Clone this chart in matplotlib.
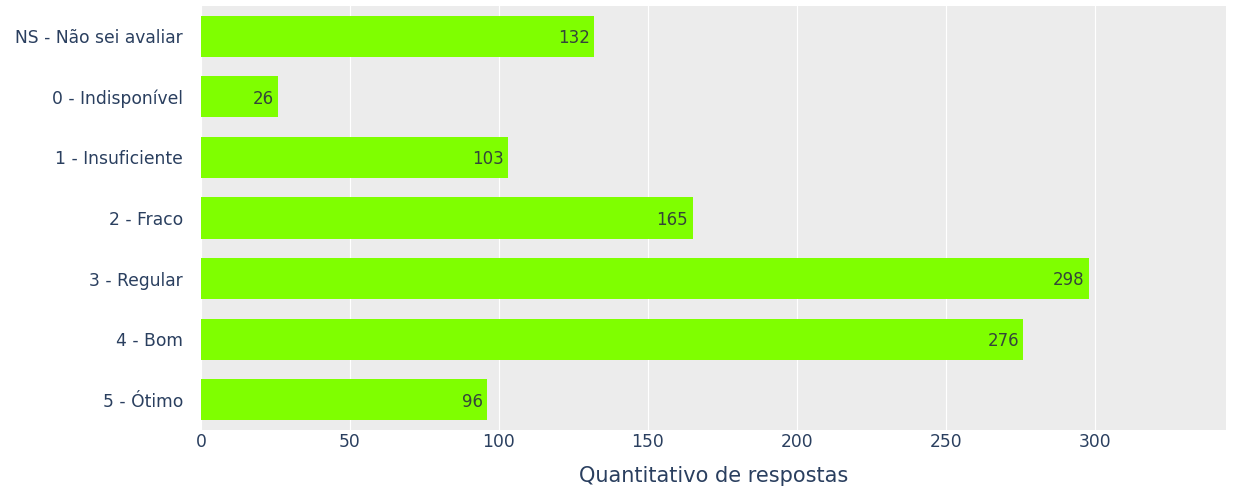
import numpy as np
import matplotlib
matplotlib.use("Agg")
import matplotlib.pyplot as plt

categorias = ["NS - Não sei avaliar", "0 - Indisponível", "1 - Insuficiente",
              "2 - Fraco", "3 - Regular", "4 - Bom", "5 - Ótimo"]
respostas = [132, 26, 103, 165, 298, 276, 96]
ticks_x = [0, 50, 100, 150, 200, 250, 300]

plt.rcParams['font.family'] = ['DejaVu Sans']
cor_texto = '#2a3f5f'

fig = plt.figure(figsize=(12.34, 4.87), dpi=100)
ax = fig.add_axes([0.1629, 0.117, 0.8306, 0.8707])
ax.set_facecolor('#ececec')

y = np.arange(len(categorias))
ax.barh(y, respostas, height=0.68, color='#7fff00', zorder=2)
for yi, v in zip(y, respostas):
    ax.text(v - 1.5, yi + 0.03, str(v), ha='right', va='center', fontsize=12,
            color='#34453a', zorder=3)

ax.set_yticks(y)
ax.set_yticklabels(categorias, fontsize=12.3, color=cor_texto)
ax.set_ylim(len(categorias) - 0.5, -0.5)
ax.set_xlim(0, 344)
ax.set_xticks(ticks_x)
ax.set_xticklabels([str(t) for t in ticks_x], fontsize=12.3, color=cor_texto)
ax.grid(axis='x', color='white', linewidth=0.8, zorder=1)
ax.tick_params(axis='y', length=0, pad=13)
ax.tick_params(axis='x', length=0, pad=2)
for s in ax.spines.values():
    s.set_visible(False)
ax.set_xlabel("Quantitativo de respostas", fontsize=15, color=cor_texto, labelpad=11)

fig.savefig("out.png", dpi=100)
